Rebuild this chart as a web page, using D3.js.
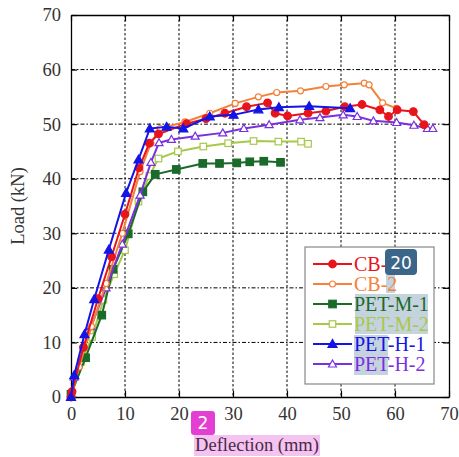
<!DOCTYPE html>
<html><head><meta charset="utf-8">
<script src="https://cdn.jsdelivr.net/npm/d3@7"></script>
<style>body{margin:0;background:#fff;} svg{display:block;} .serif{font-family:"Liberation Serif","Times New Roman","DejaVu Serif",serif;}</style>
</head><body>
<script>
const xTicks = [0,10,20,30,40,50,60,70];
const yTicks = [0,10,20,30,40,50,60,70];
const seriesNames = ["CB-1","CB-2","PET-M-1","PET-M-2","PET-H-1","PET-H-2"];
const cb1 = [[0,0],[0.2,1],[2.3,9.1],[5,18],[7.5,25.7],[10,33.5],[12.6,42],[14.5,46.5],[16.2,48.2],[21.4,50.1],[25,51],[28.5,52],[32.5,53.2],[36.4,53.9],[37.8,52],[40.1,51.5],[43.9,52],[47.2,52.4],[50.7,53.2],[53.9,53.6],[57.2,52.6],[58.8,51.4],[60.4,52.6],[63.4,52.3],[65.4,49.9]];
const cb2 = [[0,0],[1.5,5.5],[3.8,12.9],[6.5,20.8],[9.5,30],[12.8,41.3],[14.8,46.5],[16.5,49.2],[21.1,50.4],[25.7,52],[30.4,53.8],[34.7,55],[38.1,55.8],[42.5,56.1],[47.2,56.9],[50.6,57.2],[54.3,57.5],[55.2,57.2],[57.7,53.9],[60.3,52.9]];
const petM1 = [[0,0.5],[2.7,7.2],[5.7,15],[7.8,23.4],[10.6,29.9],[13.3,37.6],[15.6,40.8],[19.5,41.7],[24.4,42.8],[27.5,42.8],[30.7,42.9],[33.1,43.1],[35.7,43.2],[38.8,43]];
const petM2 = [[0,0.3],[1.9,6.5],[3.9,11],[6,17.8],[8,22.5],[10,26.9],[12.5,35.8],[14.5,40.5],[16.2,43.7],[19.8,45],[24.5,45.9],[29.1,46.5],[33.8,46.9],[38.4,46.8],[42.6,46.8],[43.9,46.4]];
const petH1 = [[0,0],[0.6,4],[2.5,11.5],[4.3,17.9],[7,27],[10.2,37.4],[12.5,43.5],[14.6,49.2],[17.7,49.5],[20.8,49.2],[25.7,51.4],[30.1,51.7],[34.7,52.7],[38.5,53.1],[44.1,53.3],[51.7,52.9]];
const petH2 = [[0,0],[0.6,3.7],[3.7,12.9],[6.5,20],[9.5,28],[12.8,37],[14.8,43],[16.3,46.6],[18.6,47.2],[23,47.8],[28.1,48.4],[32,49.2],[36.7,49.9],[42.4,50.8],[46.1,51.2],[50.4,51.7],[53,51.4],[56,50.6],[60.3,50.3],[63.5,49.8],[66,49.2],[67,49.2]];
const seriesData = [cb1, cb2, petM1, petM2, petH1, petH2];
const colors = ["#e8141c","#f5813a","#1a6b2a","#a8c84a","#1414e6","#7a30e0"];
const markers = ["circleF","circleO","squareF","squareO","triF","triO"];

const W=459,H=457;
const svg=d3.select("body").append("svg").attr("width",W).attr("height",H);
const x=d3.scaleLinear().domain([0,70]).range([71,449]);
const y=d3.scaleLinear().domain([0,70]).range([397,15]);

// grid
svg.append("g").selectAll("line").data(xTicks.filter(t=>t>0&&t<70)).join("line")
  .attr("x1",d=>x(d)).attr("x2",d=>x(d)).attr("y1",y(70)).attr("y2",y(0))
  .attr("stroke","#000").attr("stroke-width",1).attr("stroke-dasharray","2.5,2");
svg.append("g").selectAll("line").data(yTicks.filter(t=>t>0&&t<70)).join("line")
  .attr("y1",d=>y(d)).attr("y2",d=>y(d)).attr("x1",x(0)).attr("x2",x(70))
  .attr("stroke","#000").attr("stroke-width",1).attr("stroke-dasharray","4,2,1.5,2");

// axes
const tickLen=6;
const gx=svg.append("g").attr("transform",`translate(0,${y(0)})`)
  .call(d3.axisBottom(x).tickValues(xTicks).tickSizeInner(-tickLen).tickSizeOuter(0).tickPadding(10));
const gy=svg.append("g").attr("transform",`translate(${x(0)},0)`)
  .call(d3.axisLeft(y).tickValues(yTicks).tickSizeInner(-tickLen).tickSizeOuter(0).tickPadding(10));
const gt=svg.append("g").attr("transform",`translate(0,${y(70)})`)
  .call(d3.axisTop(x).tickValues(xTicks).tickSizeInner(-tickLen).tickSizeOuter(0).tickFormat(""));
const gr=svg.append("g").attr("transform",`translate(${x(70)},0)`)
  .call(d3.axisRight(y).tickValues(yTicks).tickSizeInner(-tickLen).tickSizeOuter(0).tickFormat(""));
[gx,gy,gt,gr].forEach(g=>{
  g.attr("font-family",null);
  g.select(".domain").attr("stroke","#000").attr("stroke-width",1.3);
  g.selectAll(".tick line").attr("stroke","#000").attr("stroke-width",1.2);
  g.selectAll(".tick text").attr("class","serif").attr("font-size",18.5).attr("fill","#333");
});

// axis titles
svg.append("rect").attr("x",194).attr("y",435).attr("width",126).attr("height",21).attr("fill","#f4c3ef");
svg.append("text").attr("class","serif").attr("x",257).attr("y",451).attr("text-anchor","middle")
  .attr("font-size",18.5).attr("fill","#4a2a48").text("Deflection (mm)");
svg.append("text").attr("class","serif").attr("transform",`translate(24,${(y(0)+y(70))/2}) rotate(-90)`).attr("text-anchor","middle")
  .attr("font-size",18.5).attr("fill","#333").text("Load (kN)");

function drawMarker(g,type,cx,cy,color){
  const fill = type.endsWith("F")?color:"#fff";
  if(type.startsWith("circle")){
    g.append("circle").attr("cx",cx).attr("cy",cy).attr("r",type.endsWith("F")?3.8:3)
      .attr("fill",fill).attr("stroke",color).attr("stroke-width",1.2);
  } else if(type.startsWith("square")){
    const s=type.endsWith("F")?7.5:6.5;
    g.append("rect").attr("x",cx-s/2).attr("y",cy-s/2).attr("width",s).attr("height",s)
      .attr("fill",fill).attr("stroke",color).attr("stroke-width",1.2);
  } else {
    const s=type.endsWith("F")?4.5:4;
    g.append("path").attr("d",`M${cx},${cy-s}L${cx+s},${cy+s*0.75}L${cx-s},${cy+s*0.75}Z`)
      .attr("fill",fill).attr("stroke",color).attr("stroke-width",1.2);
  }
}

const line=d3.line().x(d=>x(d[0])).y(d=>y(d[1]));
const order=[3,2,5,1,0,4];
order.forEach(i=>{
  const g=svg.append("g");
  g.append("path").datum(seriesData[i]).attr("d",line).attr("fill","none")
    .attr("stroke",colors[i]).attr("stroke-width",2).attr("stroke-linejoin","round");
  seriesData[i].forEach(p=>drawMarker(g,markers[i],x(p[0]),y(p[1]),colors[i]));
});

// legend
const lg=svg.append("g");
lg.append("rect").attr("x",305).attr("y",247).attr("width",129).attr("height",137)
  .attr("fill","#fff").attr("stroke","#888").attr("stroke-width",1.2);
const hl="rgba(140,168,190,0.5)";
lg.append("rect").attr("x",386).attr("y",274).attr("width",9).attr("height",19).attr("fill",hl);
lg.append("rect").attr("x",355).attr("y",294).attr("width",73).attr("height",20).attr("fill",hl);
lg.append("rect").attr("x",355).attr("y",314).attr("width",73).attr("height",20).attr("fill",hl);
lg.append("rect").attr("x",354).attr("y",335).attr("width",34).attr("height",20).attr("fill",hl);
lg.append("rect").attr("x",354).attr("y",355).attr("width",34).attr("height",20).attr("fill",hl);
seriesNames.forEach((n,i)=>{
  const yy=264+i*20;
  lg.append("line").attr("x1",313).attr("x2",352).attr("y1",yy).attr("y2",yy)
    .attr("stroke",colors[i]).attr("stroke-width",2);
  drawMarker(lg,markers[i],332.5,yy,colors[i]);
  lg.append("text").attr("class","serif").attr("x",354).attr("y",yy+6.5).attr("font-size",20)
    .attr("fill",colors[i]).text(n);
});

// badges
svg.append("rect").attr("x",385).attr("y",249).attr("width",32).attr("height",26).attr("rx",4).attr("fill","#3b6589");
svg.append("text").attr("x",401).attr("y",268.5).attr("text-anchor","middle").attr("font-family","'DejaVu Sans',sans-serif")
  .attr("font-size",17).attr("fill","#fff").text("20");
svg.append("rect").attr("x",191).attr("y",411).attr("width",24).attr("height",24).attr("rx",3).attr("fill","#e33fd3");
svg.append("text").attr("x",203).attr("y",429).attr("text-anchor","middle").attr("font-family","'DejaVu Sans',sans-serif")
  .attr("font-size",17).attr("fill","#fff").text("2");
</script>
</body></html>
